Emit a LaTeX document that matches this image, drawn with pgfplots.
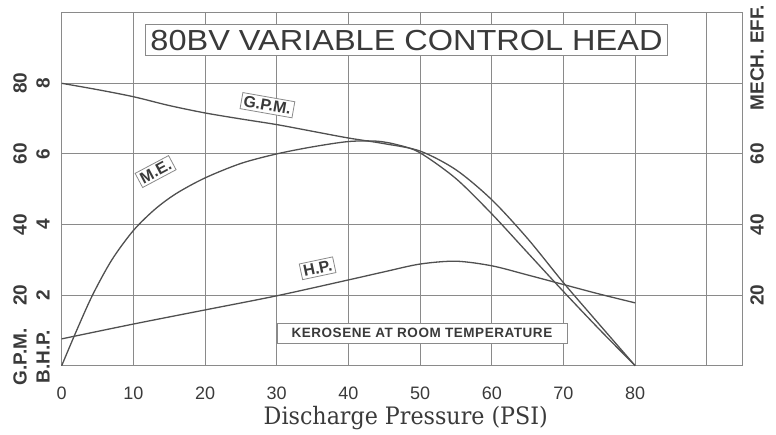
\documentclass[border=0pt]{standalone}
\usepackage{pgfplots}
\pgfplotsset{compat=1.18}
\usepackage{fontspec}
\setmainfont{Liberation Sans}
\newfontfamily\slab{DejaVu Serif}
\newfontfamily\spaced[LetterSpace=4.0]{Liberation Sans}
\definecolor{ln}{HTML}{505050}
\definecolor{gr}{HTML}{8A8A8A}
\definecolor{tx}{HTML}{3A3A3A}
\tikzset{
  lbl/.style={draw=gr, line width=0.8pt, fill=white, text=tx, inner sep=2.5pt, font=\bfseries\fontsize{16}{16}\selectfont},
  tk/.style={rotate=90, text=tx, font=\bfseries\fontsize{19}{19}\selectfont},
  crv/.style={ln, line width=1.3pt, smooth, tension=0.5, mark=none},
}
\begin{document}
\begin{tikzpicture}
\begin{axis}[
  scale only axis, width=681pt, height=353pt,
  at={(0,0)}, anchor=south west,
  xmin=0, xmax=95, ymin=0, ymax=100,
  xtick={0,10,...,90}, xticklabels={0,10,20,30,40,50,60,70,80,{}},
  ytick={0,20,...,100}, yticklabels={},
  grid=major, major grid style={gr, line width=0.9pt},
  axis line style={gr, line width=0.9pt},
  major tick length=0pt,
  xticklabel style={font=\fontsize{18}{18}\selectfont, text=tx, anchor=base, yshift=-33.6pt},
  /pgf/number format/assume math mode=true,
  clip=false,
]
% G.P.M. (x10 scale)
\addplot[crv] coordinates {(0,80) (5,78.2) (10,76.2) (15,73.7) (20,71.6) (25,69.9) (30,68.3) (35,66.4) (40,64.5) (45,62.9) (50,60.8) (55,55.5) (60,47) (65,36) (70,23.5) (75,11.7) (80,0)};
% M.E.
\addplot[crv] coordinates {(0,0) (2,9.6) (4.3,20) (7,30) (10,38.3) (13,44.3) (16,48.8) (20,53.2) (25,57.3) (30,60) (35,62) (40,63.5) (44,63.6) (47,62.5) (50,60.3) (55,53) (60,43) (65,32) (70,21) (75,10.3) (80,0)};
% H.P. (x10 scale)
\addplot[crv] coordinates {(0,7.6) (10,11.8) (20,15.8) (30,19.8) (40,24.3) (45,26.6) (50,28.8) (55,29.6) (60,28.3) (65,25.7) (70,23) (75,20.3) (80,17.8)};

% title
\node[draw=gr, line width=0.9pt, fill=white, text=tx, minimum width=522pt, minimum height=30.7pt, inner sep=0pt]
  at (axis cs:48.1,92.2) {\fontsize{29}{29}\selectfont\scalebox{1.12}[1]{80BV VARIABLE CONTROL HEAD}};
% curve labels
\node[lbl, rotate=-10] at (axis cs:28.7,73.8) {G.P.M.};
\node[lbl, rotate=28] at (axis cs:13.1,55.0) {M.E.};
\node[lbl, rotate=12] at (axis cs:35.7,27.6) {H.P.};
\node[draw=gr, line width=0.8pt, fill=white, text=tx, minimum width=290pt, minimum height=20pt, inner sep=0pt]
  at (axis cs:50.25,9.2) {\spaced\bfseries\fontsize{13.5}{13.5}\selectfont KEROSENE AT ROOM TEMPERATURE};
% left labels
\node[tk] at ([xshift=-41.7pt]axis cs:0,80) {80};
\node[tk] at ([xshift=-41.7pt]axis cs:0,60) {60};
\node[tk] at ([xshift=-41.7pt]axis cs:0,40) {40};
\node[tk] at ([xshift=-41.7pt]axis cs:0,20) {20};
\node[tk] at ([xshift=-41.7pt]axis cs:0,2.5) {G.P.M.};
\node[tk] at ([xshift=-18.7pt]axis cs:0,80) {8};
\node[tk] at ([xshift=-18.7pt]axis cs:0,60) {6};
\node[tk] at ([xshift=-18.7pt]axis cs:0,40) {4};
\node[tk] at ([xshift=-18.7pt]axis cs:0,20) {2};
\node[tk] at ([xshift=-18.7pt]axis cs:0,2.5) {B.H.P.};
% right labels
\node[tk] at ([xshift=14.3pt]axis cs:95,60) {60};
\node[tk] at ([xshift=14.3pt]axis cs:95,40) {40};
\node[tk] at ([xshift=14.3pt]axis cs:95,20) {20};
\node[tk] at ([xshift=14.3pt]axis cs:95,87.3) {MECH. EFF.};
% x label
\node[anchor=base, text=tx, yshift=-58.3pt] at (axis cs:48,0) {\slab\fontsize{24}{24}\selectfont\scalebox{0.925}[1]{Discharge Pressure (PSI)}};
\end{axis}
\pgfresetboundingbox
\path[use as bounding box] (-61.7pt,-68.3pt) rectangle (714.3pt,365.7pt);
\end{tikzpicture}
\end{document}
